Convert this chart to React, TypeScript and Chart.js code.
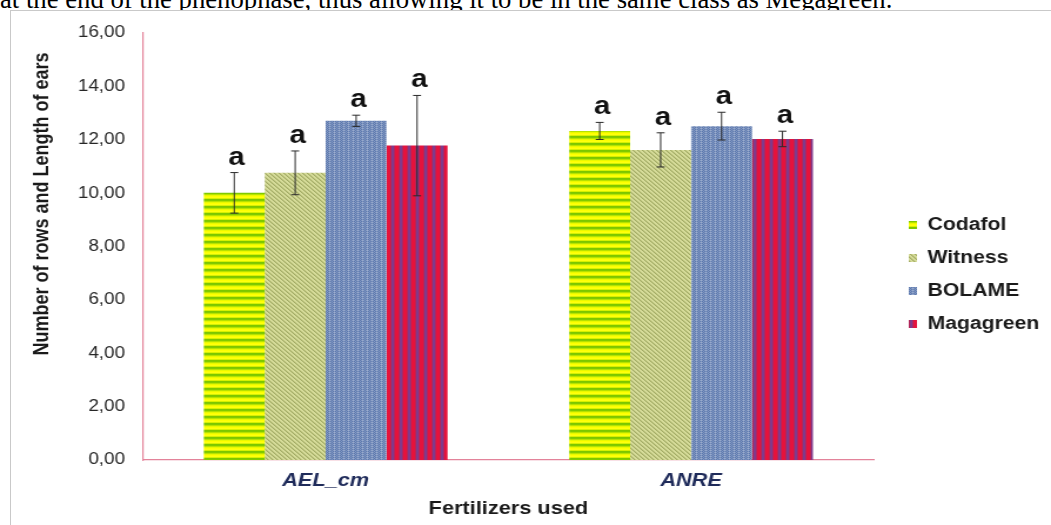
import React, { useEffect, useRef } from 'react';
import { Chart, registerables } from 'chart.js';

Chart.register(...registerables);

// ---------------- data ----------------
const introText =
  'at the end of the phenophase, thus allowing it to be in the same class as Megagreen.';
const categories = ['AEL_cm', 'ANRE'];
const seriesNames = ['Codafol', 'Witness', 'BOLAME', 'Magagreen'];
const codafolValues = [10.01, 12.33];
const witnessValues = [10.76, 11.62];
const bolameValues = [12.71, 12.51];
const magagreenValues = [11.78, 12.03];
const codafolErrors = [0.76, 0.32];
const witnessErrors = [0.82, 0.64];
const bolameErrors = [0.21, 0.52];
const magagreenErrors = [1.88, 0.29];
const codafolLetters = ['a', 'a'];
const witnessLetters = ['a', 'a'];
const bolameLetters = ['a', 'a'];
const magagreenLetters = ['a', 'a'];
const yMin = 0;
const yMax = 16;
const yStep = 2;
const yTitle = 'Number of rows and Length of ears';
const xTitle = 'Fertilizers used';

// ---------------- layout constants (canvas space) ----------------
const CW = 894;
const CH = 525;
const FONT = "'Liberation Sans', Arial, Helvetica, sans-serif";

function makePattern(w: number, h: number, paint: (g: CanvasRenderingContext2D) => void) {
  const c = document.createElement('canvas');
  c.width = w;
  c.height = h;
  const g = c.getContext('2d') as CanvasRenderingContext2D;
  paint(g);
  return g.createPattern(c, 'repeat') as CanvasPattern;
}

function buildPatterns() {
  const codafol = makePattern(1, 7, (g) => {
    const rows = ['#FFFF00', '#FFFF10', '#D6F000', '#7CC600', '#80CA00', '#B6E200', '#EAF900'];
    rows.forEach((c, i) => {
      g.fillStyle = c;
      g.fillRect(0, i, 1, 1);
    });
  });
  const witness = makePattern(4, 4, (g) => {
    for (let x = 0; x < 4; x++) {
      for (let y = 0; y < 4; y++) {
        const d = (x - y + 8) % 4;
        g.fillStyle = d === 0 ? '#A2AB66' : d === 1 ? '#BFC67F' : '#D6DC9A';
        g.fillRect(x, y, 1, 1);
      }
    }
  });
  const bolame = makePattern(4, 4, (g) => {
    for (let x = 0; x < 4; x++) {
      for (let y = 0; y < 4; y++) {
        let c = (x + y) % 2 === 0 ? '#5C79AE' : '#8398C2';
        if (x === 0 && y % 2 === 0) c = '#9DAFCF';
        g.fillStyle = c;
        g.fillRect(x, y, 1, 1);
      }
    }
  });
  const magagreen = makePattern(7, 1, (g) => {
    const cols = ['#E5123C', '#E5123C', '#E5123C', '#B82556', '#7F3A8C', '#7F3A8C', '#B02662'];
    cols.forEach((c, i) => {
      g.fillStyle = c;
      g.fillRect(i, 0, 1, 1);
    });
  });
  return [codafol, witness, bolame, magagreen];
}

const seriesValues = [codafolValues, witnessValues, bolameValues, magagreenValues];
const seriesErrors = [codafolErrors, witnessErrors, bolameErrors, magagreenErrors];
const seriesLetters = [codafolLetters, witnessLetters, bolameLetters, magagreenLetters];

const annotationPlugin = {
  id: 'errorBarsLetters',
  afterDatasetsDraw(chart: any) {
    const ctx: CanvasRenderingContext2D = chart.ctx;
    const ys = chart.scales.y;
    chart.data.datasets.forEach((ds: any, i: number) => {
      const meta = chart.getDatasetMeta(i);
      meta.data.forEach((bar: any, j: number) => {
        const v = ds.data[j] as number;
        const e = seriesErrors[i][j];
        const x = bar.x;
        const yt = ys.getPixelForValue(v + e);
        const yb = ys.getPixelForValue(v - e);
        const cap = 3.4;
        ctx.save();
        ctx.strokeStyle = '#2a2a2a';
        ctx.lineWidth = 1;
        ctx.beginPath();
        ctx.moveTo(x, yt);
        ctx.lineTo(x, yb);
        ctx.moveTo(x - cap, yt);
        ctx.lineTo(x + cap, yt);
        ctx.moveTo(x - cap, yb);
        ctx.lineTo(x + cap, yb);
        ctx.stroke();
        ctx.fillStyle = '#111111';
        ctx.font = `bold 25px ${FONT}`;
        ctx.textAlign = 'center';
        ctx.textBaseline = 'alphabetic';
        ctx.fillText(seriesLetters[i][j], x + 2, yt - 8);
        ctx.restore();
      });
    });
    // y axis title
    ctx.save();
    ctx.translate(36.2, 204);
    ctx.rotate(-Math.PI / 2);
    ctx.font = `bold 18px ${FONT}`;
    ctx.fillStyle = '#1a1a1a';
    ctx.textAlign = 'center';
    ctx.textBaseline = 'middle';
    ctx.fillText(yTitle, 0, 0);
    ctx.restore();
  },
};

export default function App() {
  const ref = useRef<HTMLCanvasElement>(null);

  useEffect(() => {
    const canvas = ref.current as HTMLCanvasElement;
    const patterns = buildPatterns();
    const axisColor = '#E3839A';
    const chart = new Chart(canvas, {
      type: 'bar',
      data: {
        labels: categories,
        datasets: seriesNames.map((name, i) => ({
          label: name,
          data: seriesValues[i],
          backgroundColor: patterns[i],
          borderWidth: 0,
          categoryPercentage: 0.667,
          barPercentage: 1.0,
        })),
      },
      options: {
        responsive: false,
        maintainAspectRatio: false,
        animation: false,
        devicePixelRatio: 1,
        events: [],
        layout: { padding: { top: 33, bottom: 9, left: 0, right: 0 } },
        plugins: {
          tooltip: { enabled: false },
          legend: {
            position: 'right',
            labels: {
              boxWidth: 7,
              boxHeight: 8,
              padding: 15,
              color: '#1a1a1a',
              font: { family: FONT, size: 18, weight: 'bold' },
            },
          },
        },
        scales: {
          x: {
            grid: { display: false, drawTicks: false },
            border: { display: true, color: axisColor, width: 1.2 },
            ticks: {
              padding: 10,
              color: '#1F2B5A',
              font: { family: FONT, size: 18.5, weight: 'bold', style: 'italic' },
            },
            title: {
              display: true,
              text: xTitle,
              color: '#1a1a1a',
              font: { family: FONT, size: 18.5, weight: 'bold' },
              padding: { top: 0, bottom: -4 },
            },
            afterFit: (s: any) => {
              s.height = 56;
            },
          },
          y: {
            min: yMin,
            max: yMax,
            grid: { display: false, drawTicks: false },
            border: { display: true, color: axisColor, width: 1.2 },
            ticks: {
              stepSize: yStep,
              padding: 15.3,
              color: '#262626',
              font: { family: FONT, size: 16 },
              callback: (v: any) => Number(v).toFixed(2).replace('.', ','),
            },
            afterFit: (s: any) => {
              s.width = 121.6;
            },
          },
          spacer: {
            type: 'linear',
            position: 'right',
            display: true,
            grid: { display: false, drawTicks: false },
            border: { display: false },
            ticks: { display: false },
            afterFit: (s: any) => {
              s.width = 14.7;
            },
          },
        },
      },
      plugins: [annotationPlugin],
    } as any);
    return () => chart.destroy();
  }, []);

  return (
    <div
      style={{
        position: 'fixed',
        left: 0,
        top: 0,
        width: 1051,
        height: 525,
        overflow: 'hidden',
        background: '#ffffff',
      }}
    >
      <div
        style={{
          position: 'absolute',
          left: 0,
          top: -14.4,
          fontFamily: "'Liberation Serif', 'Times New Roman', serif",
          fontSize: '26.7px',
          lineHeight: '26.7px',
          whiteSpace: 'nowrap',
          color: '#000',
        }}
      >
        {introText}
      </div>
      <div
        style={{
          position: 'absolute',
          left: 10,
          top: 10,
          width: 1100,
          height: 600,
          borderTop: '1px solid #c9c9c9',
          borderLeft: '1px solid #c9c9c9',
          background: '#ffffff',
        }}
      />
      <canvas
        ref={ref}
        width={CW}
        height={CH}
        style={{ position: 'absolute', left: 0, top: 0, width: '1051px', height: '525px' }}
      />
    </div>
  );
}
